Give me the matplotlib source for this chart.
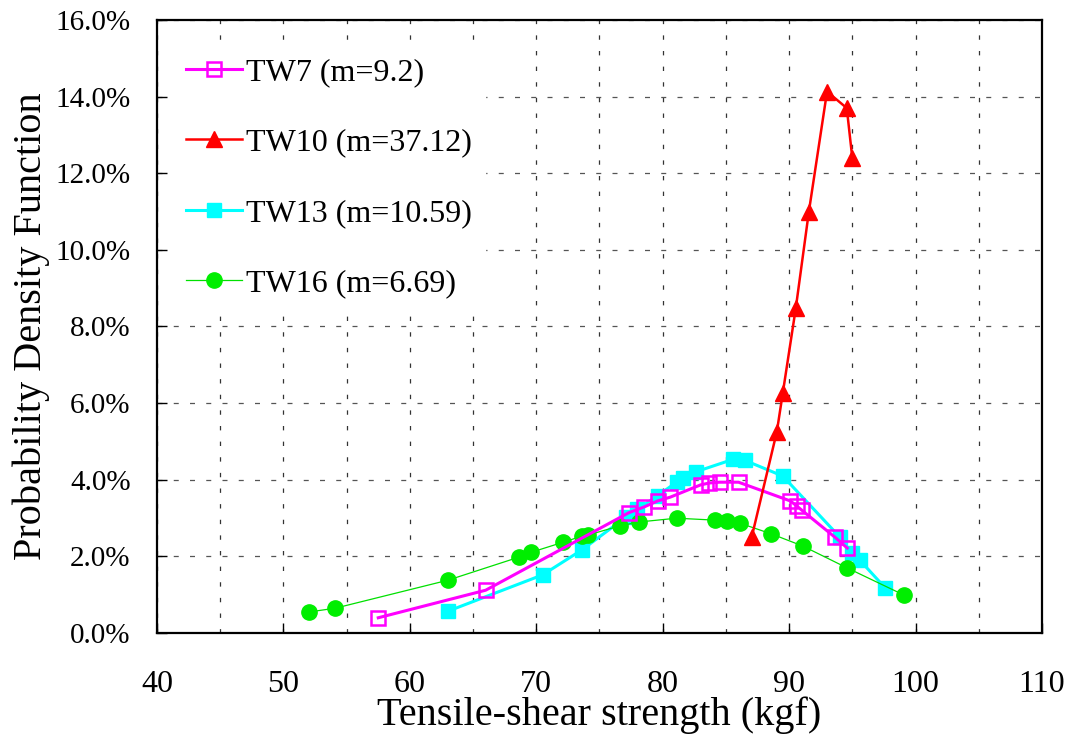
import matplotlib
matplotlib.use("Agg")
import matplotlib.pyplot as plt
from matplotlib.ticker import FuncFormatter, MultipleLocator

plt.rcParams['font.family'] = ['Liberation Serif', 'DejaVu Serif']

# Data (x: kgf, y: PDF in %)
tw7_x = [57.5, 66.0, 77.3, 78.5, 79.6, 80.6, 83.0, 83.7, 84.5, 86.0, 90.1, 90.6, 91.0, 93.6, 94.6]
tw7_y = [0.39, 1.11, 3.13, 3.28, 3.44, 3.54, 3.86, 3.91, 3.93, 3.93, 3.44, 3.31, 3.20, 2.50, 2.21]

tw10_x = [87.05, 89.03, 89.50, 90.53, 91.56, 93.0, 94.56, 95.0]
tw10_y = [2.51, 5.25, 6.26, 8.48, 10.99, 14.13, 13.70, 12.39]

tw13_x = [63.0, 70.5, 73.6, 77.1, 78.0, 79.6, 81.1, 81.6, 82.6, 85.6, 86.5, 89.5, 94.0, 95.0, 95.6, 97.6]
tw13_y = [0.56, 1.51, 2.16, 3.02, 3.22, 3.58, 3.93, 4.04, 4.20, 4.53, 4.50, 4.09, 2.50, 2.07, 1.89, 1.17]

tw16_x = [52.0, 54.1, 63.0, 68.6, 69.6, 72.1, 73.6, 74.1, 76.6, 78.1, 81.1, 84.1, 85.1, 86.1, 88.6, 91.1, 94.6, 99.1]
tw16_y = [0.54, 0.64, 1.37, 1.97, 2.10, 2.36, 2.52, 2.55, 2.79, 2.89, 2.99, 2.94, 2.92, 2.86, 2.58, 2.26, 1.69, 0.98]

labels = ["TW7 (m=9.2)", "TW10 (m=37.12)", "TW13 (m=10.59)", "TW16 (m=6.69)"]

fig = plt.figure(figsize=(10.69, 7.40), dpi=100)
ax = fig.add_axes([0.1469, 0.145, 0.8278, 0.828])

ax.plot(tw7_x, tw7_y, color='#ff00ff', lw=2.2, marker='s', ms=9.5,
        mfc='none', mec='#ff00ff', mew=1.8, label=labels[0], zorder=4)
ax.plot(tw10_x, tw10_y, color='#ff0000', lw=1.8, marker='^', ms=11,
        mfc='#ff0000', mec='#ff0000', label=labels[1], zorder=5)
ax.plot(tw13_x, tw13_y, color='#00ffff', lw=2.2, marker='s', ms=10,
        mfc='#00ffff', mec='#00ffff', label=labels[2], zorder=3)
ax.plot(tw16_x, tw16_y, color='#00e000', lw=0.9, marker='o', ms=11,
        mfc='#00ee00', mec='#00ee00', label=labels[3], zorder=3)

ax.set_xlim(40, 110)
ax.set_ylim(0, 16)
ax.xaxis.set_major_locator(MultipleLocator(10))
ax.xaxis.set_minor_locator(MultipleLocator(5))
ax.yaxis.set_major_locator(MultipleLocator(2))
ax.yaxis.set_major_formatter(FuncFormatter(lambda v, p: f"{v:.1f}%"))

ax.tick_params(axis='both', which='major', direction='in', length=7, width=1.0)
ax.tick_params(axis='y', which='major', labelsize=21, pad=19)
ax.tick_params(axis='x', which='major', labelsize=23, pad=27)
ax.tick_params(axis='x', which='minor', length=0)
ax.tick_params(top=False, right=False)

ax.grid(True, axis='x', which='both', color='#333333', linestyle=(0, (3.5, 9)), lw=0.9)
ax.grid(True, axis='y', which='major', color='#555555', linestyle=(0, (4, 9)), lw=0.9)
ax.set_axisbelow(True)

for s in ax.spines.values():
    s.set_linewidth(1.6)

ax.set_xlabel("Tensile-shear strength (kgf)", fontsize=29, labelpad=-2)
ax.set_ylabel("Probability Density Function", fontsize=29, labelpad=4)

leg = ax.legend(loc='upper left', bbox_to_anchor=(0.0, 0.985), fontsize=23,
                frameon=True, framealpha=1.0, edgecolor='white', facecolor='white',
                labelspacing=1.28, handlelength=1.75, handletextpad=0.15,
                borderpad=0.4, fancybox=False)
leg.set_zorder(6)

fig.savefig("out.png", dpi=100)
